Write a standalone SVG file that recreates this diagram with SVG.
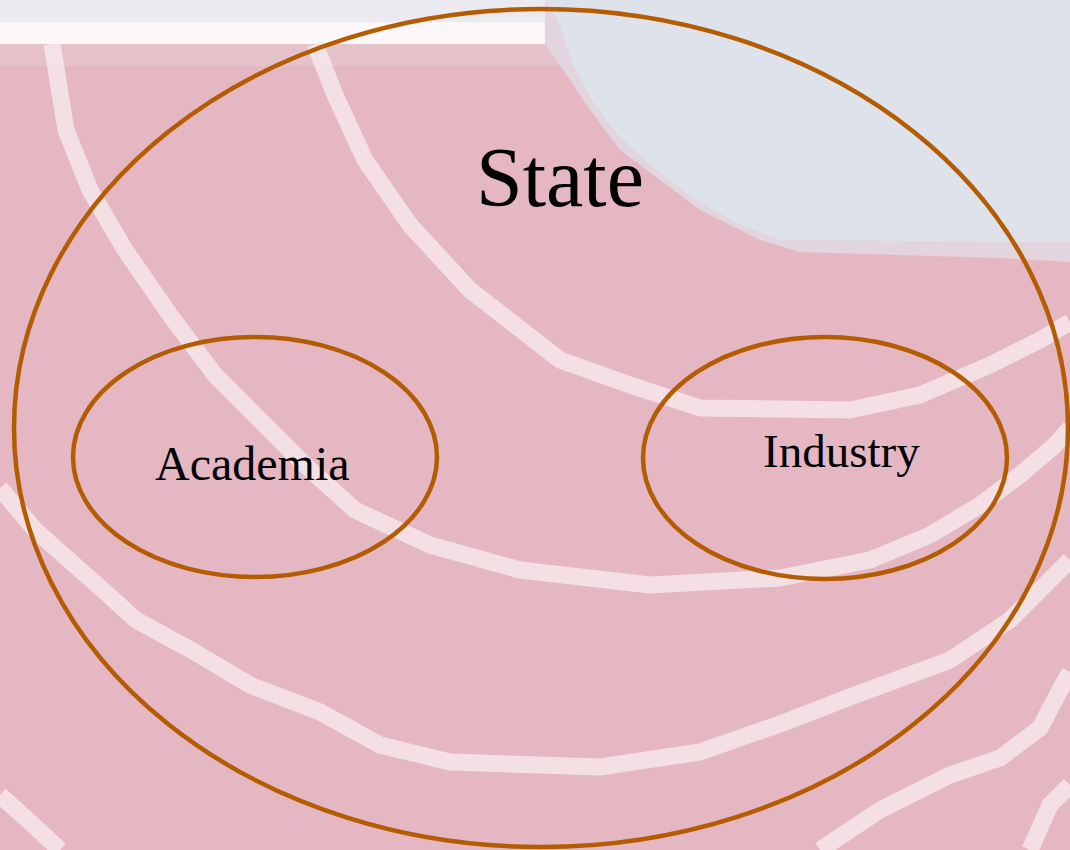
<svg xmlns="http://www.w3.org/2000/svg" width="1070" height="850" viewBox="0 0 1070 850">
  <style>
    .ring { fill: none; stroke: #b45c02; stroke-width: 4.5; }
    .streak { fill: none; stroke: #f7ecef; stroke-width: 17; stroke-linecap: butt; stroke-linejoin: round; opacity: 0.75; }
    .label { font-family: "Liberation Serif", "Times New Roman", serif; fill: #000; }
  </style>
  <g id="background">
    <rect x="0" y="0" width="1070" height="850" fill="#e5b7c3"/>
    <rect x="0" y="0" width="560" height="22" fill="#eceaf1"/>
    <rect x="0" y="22" width="560" height="22" fill="#fcf8fa"/>
    <rect x="0" y="44" width="560" height="22" fill="#e6c3cb"/>
    <path d="M545,0 L1070,0 L1070,262 L1000,258 L800,252 L760,240 L700,210 L660,180 L620,150 L590,110 L570,80 L545,44 Z" fill="#e2d5de"/>
    <path d="M545,0 L1070,0 L1070,242 L780,240 L735,222 L690,196 L650,165 L615,132 L592,100 L572,62 L558,20 Z" fill="#dee2ea"/>
    <polyline class="streak" points="52,44 66,130 90,190 125,250 170,315 215,375 260,420 305,465 355,510 430,545 520,570 650,585 780,578 870,560 930,535 980,505 1020,475 1055,445 1070,428"/>
    <polyline class="streak" points="315,44 335,95 365,160 410,225 470,290 515,325 560,360 630,385 700,408 850,410 920,395 990,365 1040,340 1070,322"/>
    <polyline class="streak" points="0,488 35,530 95,583 136,620 191,650 250,685 320,712 380,745 450,762 600,767 700,752 780,724 850,697 950,660 1010,620 1040,590 1070,560"/>
    <polyline class="streak" points="0,795 30,822 60,850"/>
    <polyline class="streak" points="820,850 880,810 950,775 1000,758 1040,728 1060,690 1070,672"/>
    <polyline class="streak" points="1030,850 1050,805 1070,785"/>
  </g>
  <g id="connectors"/>
  <g id="state">
    <ellipse class="ring" cx="541" cy="428" rx="527" ry="419"/>
    <text class="label" x="476" y="206" font-size="84">State</text>
  </g>
  <g id="academia">
    <ellipse class="ring" cx="255" cy="457" rx="182" ry="120"/>
    <text class="label" x="155" y="480" font-size="48">Academia</text>
  </g>
  <g id="industry">
    <ellipse class="ring" cx="825" cy="458" rx="182" ry="121"/>
    <text class="label" x="763" y="467" font-size="47">Industry</text>
  </g>
</svg>
